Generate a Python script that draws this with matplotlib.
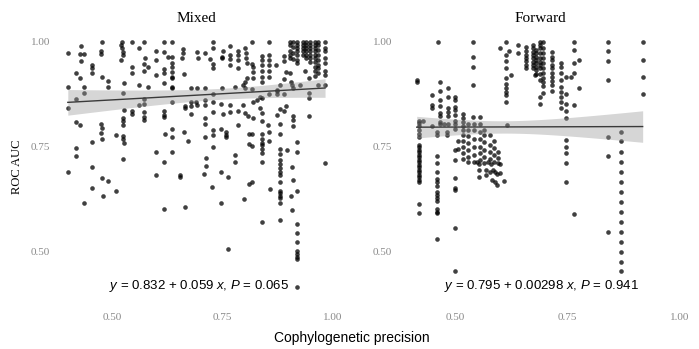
import numpy as np
import matplotlib
matplotlib.use("Agg")
import matplotlib.pyplot as plt

plt.rcParams['mathtext.fontset'] = 'custom'
plt.rcParams['mathtext.it'] = 'Liberation Sans:italic'
plt.rcParams['mathtext.rm'] = 'Liberation Sans'

# (cophylogenetic precision, ROC AUC)
mixed_points = [
    (0.477, 1.000), (0.522, 0.999), (0.546, 1.000), (0.572, 1.000), (0.618, 1.000), (0.636, 1.000),
    (0.429, 0.990), (0.400, 0.973), (0.428, 0.971), (0.437, 0.971), (0.475, 0.978), (0.475, 0.971),
    (0.520, 0.993), (0.522, 0.985), (0.525, 0.977), (0.525, 0.970), (0.560, 0.985), (0.600, 0.978),
    (0.618, 0.977), (0.626, 0.965), (0.636, 0.965), (0.661, 0.983), (0.661, 0.973), (0.659, 0.961),
    (0.429, 0.954), (0.520, 0.957), (0.575, 0.961), (0.600, 0.957), (0.635, 0.949),
    (0.454, 0.945), (0.454, 0.937), (0.454, 0.927), (0.546, 0.941), (0.546, 0.927), (0.572, 0.947),
    (0.572, 0.931), (0.581, 0.939), (0.618, 0.935), (0.618, 0.927), (0.636, 0.941), (0.636, 0.929),
    (0.636, 0.917), (0.636, 0.913), (0.600, 0.921), (0.664, 0.923), (0.419, 0.925), (0.428, 0.915),
    (0.477, 0.916), (0.492, 0.907), (0.492, 0.893), (0.526, 0.901), (0.560, 0.897), (0.582, 0.892),
    (0.618, 0.903), (0.636, 0.893), (0.636, 0.889), (0.679, 0.889), (0.400, 0.893), (0.437, 0.893),
    (0.437, 0.879), (0.418, 0.864), (0.400, 0.843), (0.525, 0.879), (0.572, 0.864), (0.560, 0.849),
    (0.572, 0.851), (0.635, 0.857), (0.665, 0.847), (0.665, 0.843), (0.679, 0.857), (0.679, 0.847),
    (0.679, 0.828), (0.528, 0.837), (0.546, 0.835), (0.546, 0.828), (0.572, 0.833), (0.572, 0.821),
    (0.572, 0.813), (0.618, 0.835), (0.618, 0.825), (0.618, 0.820), (0.525, 0.819), (0.525, 0.811),
    (0.525, 0.801), (0.418, 0.809), (0.428, 0.801), (0.474, 0.803), (0.477, 0.795), (0.474, 0.783),
    (0.510, 0.777), (0.525, 0.775), (0.525, 0.767), (0.528, 0.759), (0.477, 0.767), (0.454, 0.760),
    (0.620, 0.779), (0.636, 0.792), (0.636, 0.773), (0.664, 0.785), (0.673, 0.762), (0.419, 0.747),
    (0.419, 0.728), (0.525, 0.719), (0.600, 0.738), (0.636, 0.736), (0.618, 0.712),
    (0.728, 1.000), (0.817, 1.000), (0.856, 1.000), (0.982, 1.000),
    (0.903, 1.000), (0.903, 0.993), (0.903, 0.978), (0.903, 0.969), (0.903, 0.961),
    (0.910, 1.000), (0.910, 0.989), (0.910, 0.973), (0.910, 0.959),
    (0.919, 1.000), (0.919, 0.994), (0.919, 0.986), (0.919, 0.978), (0.919, 0.969), (0.919, 0.957), (0.919, 0.949),
    (0.933, 1.000), (0.933, 0.994), (0.933, 0.986), (0.933, 0.978), (0.933, 0.970),
    (0.940, 1.000), (0.940, 0.994), (0.940, 0.986), (0.940, 0.978), (0.940, 0.970), (0.940, 0.962),
    (0.948, 1.000), (0.948, 0.994), (0.948, 0.986), (0.948, 0.978), (0.948, 0.970), (0.948, 0.962), (0.948, 0.953),
    (0.959, 1.000), (0.959, 0.994), (0.959, 0.986), (0.959, 0.978), (0.959, 0.970), (0.959, 0.961),
    (0.959, 0.953), (0.959, 0.941), (0.959, 0.931), (0.959, 0.919),
    (0.967, 1.000), (0.967, 0.993), (0.967, 0.981), (0.967, 0.969), (0.967, 0.957), (0.967, 0.945),
    (0.967, 0.937), (0.967, 0.927),
    (0.982, 0.985), (0.982, 0.978), (0.982, 0.961), (0.982, 0.949), (0.982, 0.931), (0.982, 0.921),
    (0.692, 0.977), (0.695, 0.961), (0.710, 0.973), (0.722, 0.959), (0.728, 0.985), (0.728, 0.947),
    (0.728, 0.937), (0.752, 0.978), (0.748, 0.965), (0.749, 0.961), (0.768, 0.990), (0.767, 0.969),
    (0.767, 0.959), (0.767, 0.945), (0.786, 0.978), (0.786, 0.970), (0.786, 0.957), (0.786, 0.937),
    (0.802, 0.985), (0.803, 0.973), (0.803, 0.961), (0.805, 0.949), (0.817, 0.947), (0.820, 0.941),
    (0.820, 0.929), (0.806, 0.913), (0.802, 0.905), (0.797, 0.897), (0.820, 0.913),
    (0.839, 0.967), (0.839, 0.957), (0.839, 0.945), (0.839, 0.931), (0.839, 0.917), (0.839, 0.905),
    (0.856, 0.970), (0.856, 0.957), (0.856, 0.945), (0.856, 0.931), (0.856, 0.917), (0.871, 0.945),
    (0.888, 0.967), (0.888, 0.954), (0.894, 0.929), (0.889, 0.911), (0.879, 0.897), (0.874, 0.885),
    (0.903, 0.925), (0.906, 0.905), (0.907, 0.897), (0.910, 0.889), (0.925, 0.897), (0.937, 0.931),
    (0.945, 0.913), (0.945, 0.877), (0.945, 0.865), (0.965, 0.897), (0.982, 0.897),
    (0.692, 0.891), (0.710, 0.889), (0.728, 0.875), (0.748, 0.891), (0.778, 0.893), (0.801, 0.891),
    (0.817, 0.887), (0.835, 0.869), (0.839, 0.867), (0.856, 0.875), (0.874, 0.883), (0.874, 0.875),
    (0.889, 0.875),
    (0.690, 0.857), (0.692, 0.849), (0.710, 0.861), (0.710, 0.849), (0.729, 0.857), (0.728, 0.833),
    (0.746, 0.852), (0.750, 0.828), (0.767, 0.849), (0.767, 0.833), (0.784, 0.835), (0.797, 0.849),
    (0.802, 0.829), (0.808, 0.824), (0.820, 0.819), (0.820, 0.857), (0.827, 0.861), (0.835, 0.841),
    (0.839, 0.829), (0.839, 0.811), (0.854, 0.801), (0.874, 0.825), (0.879, 0.840), (0.889, 0.835),
    (0.894, 0.848), (0.909, 0.824), (0.909, 0.813), (0.909, 0.800), (0.945, 0.824),
    (0.710, 0.817), (0.710, 0.805), (0.728, 0.789), (0.728, 0.777), (0.746, 0.793), (0.758, 0.785),
    (0.759, 0.777), (0.758, 0.773), (0.710, 0.773), (0.728, 0.750), (0.778, 0.730), (0.784, 0.801),
    (0.809, 0.779), (0.817, 0.779), (0.811, 0.757), (0.817, 0.752),
    (0.839, 0.779), (0.839, 0.769), (0.839, 0.758), (0.839, 0.754), (0.839, 0.745), (0.839, 0.734),
    (0.839, 0.714), (0.856, 0.785), (0.856, 0.762),
    (0.879, 0.803), (0.879, 0.779), (0.879, 0.745), (0.879, 0.731), (0.879, 0.718),
    (0.895, 0.742), (0.919, 0.760), (0.919, 0.738), (0.713, 0.722), (0.778, 0.712), (0.982, 0.710),
    (0.400, 0.690), (0.454, 0.702), (0.477, 0.674), (0.490, 0.668), (0.454, 0.650), (0.509, 0.644),
    (0.480, 0.632), (0.437, 0.614), (0.599, 0.683), (0.654, 0.682), (0.654, 0.678), (0.618, 0.600),
    (0.665, 0.606),
    (0.713, 0.703), (0.708, 0.684), (0.746, 0.688), (0.763, 0.676), (0.727, 0.652), (0.746, 0.616),
    (0.799, 0.624), (0.809, 0.660), (0.817, 0.665), (0.857, 0.648), (0.839, 0.570),
    (0.879, 0.708), (0.879, 0.698), (0.879, 0.690), (0.879, 0.682), (0.879, 0.666), (0.879, 0.644),
    (0.879, 0.638), (0.879, 0.632), (0.879, 0.628), (0.879, 0.614), (0.879, 0.574),
    (0.908, 0.700), (0.910, 0.671), (0.919, 0.644), (0.904, 0.632), (0.908, 0.598),
    (0.919, 0.565), (0.919, 0.542), (0.919, 0.521), (0.919, 0.501), (0.919, 0.493), (0.919, 0.486),
    (0.919, 0.480), (0.919, 0.413), (0.762, 0.505),
]

forward_points = [
    (0.415, 0.909), (0.415, 0.905), (0.419, 0.811), (0.419, 0.806), (0.419, 0.798), (0.419, 0.789),
    (0.419, 0.781), (0.419, 0.773), (0.419, 0.754), (0.419, 0.748), (0.419, 0.742), (0.419, 0.736),
    (0.419, 0.730), (0.419, 0.724), (0.419, 0.718), (0.419, 0.712), (0.419, 0.706), (0.419, 0.700),
    (0.419, 0.694), (0.419, 0.688), (0.419, 0.682), (0.419, 0.676), (0.419, 0.670), (0.419, 0.664),
    (0.419, 0.612), (0.419, 0.592), (0.430, 0.811),
    (0.448, 0.873), (0.448, 0.849), (0.448, 0.843), (0.448, 0.800),
    (0.463, 1.000), (0.467, 0.905), (0.467, 0.883), (0.467, 0.861), (0.467, 0.847), (0.467, 0.831),
    (0.467, 0.823), (0.467, 0.809), (0.467, 0.803),
    (0.461, 0.785), (0.461, 0.777), (0.461, 0.728), (0.461, 0.711), (0.461, 0.688), (0.461, 0.672),
    (0.461, 0.664), (0.461, 0.656), (0.461, 0.640), (0.461, 0.634), (0.461, 0.628), (0.461, 0.620),
    (0.461, 0.600), (0.461, 0.594), (0.461, 0.590), (0.461, 0.529),
    (0.484, 0.891), (0.484, 0.869), (0.484, 0.843), (0.484, 0.832), (0.484, 0.823), (0.484, 0.803),
    (0.482, 0.785), (0.482, 0.777), (0.476, 0.803),
    (0.500, 0.869), (0.500, 0.861), (0.500, 0.845), (0.500, 0.837), (0.500, 0.825), (0.500, 0.811),
    (0.500, 0.803), (0.500, 0.793), (0.500, 0.742), (0.500, 0.718), (0.501, 0.674), (0.501, 0.650),
    (0.501, 0.647), (0.501, 0.554), (0.501, 0.453),
    (0.507, 0.762), (0.507, 0.745),
    (0.518, 0.827), (0.518, 0.819), (0.518, 0.809), (0.518, 0.800), (0.518, 0.789), (0.518, 0.777),
    (0.518, 0.763), (0.518, 0.750), (0.518, 0.734), (0.518, 0.720),
    (0.530, 0.805), (0.530, 0.789), (0.530, 0.774), (0.530, 0.758), (0.530, 0.742), (0.530, 0.726),
    (0.530, 0.714),
    (0.539, 1.000), (0.539, 0.965), (0.539, 0.939), (0.539, 0.897), (0.539, 0.821),
    (0.542, 0.805), (0.542, 0.789), (0.542, 0.769), (0.542, 0.749), (0.542, 0.730), (0.542, 0.714),
    (0.555, 0.821), (0.555, 0.805), (0.555, 0.785), (0.555, 0.769), (0.555, 0.749), (0.555, 0.734),
    (0.555, 0.718),
    (0.565, 0.789), (0.565, 0.777), (0.565, 0.761), (0.565, 0.742), (0.565, 0.726), (0.565, 0.710),
    (0.578, 0.777), (0.578, 0.754), (0.578, 0.738), (0.578, 0.720),
    (0.587, 0.763), (0.587, 0.746), (0.587, 0.730), (0.587, 0.714),
    (0.596, 0.738), (0.596, 0.722), (0.596, 0.710), (0.600, 0.985),
    (0.548, 0.714), (0.553, 0.708), (0.574, 0.714), (0.581, 0.708), (0.601, 0.708),
    (0.553, 0.694), (0.553, 0.678), (0.570, 0.694), (0.578, 0.690), (0.585, 0.694), (0.589, 0.688),
    (0.593, 0.684), (0.583, 0.670), (0.590, 0.666), (0.593, 0.658), (0.610, 0.668), (0.600, 0.686),
    (0.570, 0.682),
    (0.613, 1.000), (0.613, 0.970), (0.613, 0.954), (0.613, 0.937), (0.613, 0.913), (0.613, 0.899),
    (0.613, 0.889), (0.613, 0.881), (0.613, 0.873), (0.613, 0.857), (0.619, 0.978), (0.624, 0.921),
    (0.615, 0.801), (0.639, 0.993), (0.639, 0.973),
    (0.658, 0.987), (0.658, 0.978), (0.658, 0.970), (0.658, 0.962), (0.658, 0.954), (0.658, 0.946),
    (0.658, 0.937),
    (0.674, 0.993), (0.674, 0.985), (0.674, 0.977), (0.674, 0.969), (0.674, 0.961), (0.674, 0.953),
    (0.674, 0.945), (0.674, 0.937),
    (0.680, 0.981), (0.680, 0.973), (0.680, 0.965), (0.680, 0.957), (0.680, 0.949), (0.680, 0.941),
    (0.680, 0.933), (0.680, 0.923),
    (0.689, 1.000), (0.689, 0.993), (0.689, 0.985), (0.689, 0.973), (0.689, 0.962), (0.689, 0.953),
    (0.689, 0.945), (0.689, 0.937), (0.689, 0.923), (0.689, 0.909), (0.689, 0.869), (0.689, 0.851),
    (0.696, 0.999), (0.696, 0.985), (0.696, 0.973), (0.696, 0.962), (0.696, 0.949), (0.696, 0.937),
    (0.696, 0.925), (0.696, 0.915), (0.696, 0.905), (0.696, 0.895), (0.696, 0.877),
    (0.716, 0.977), (0.716, 0.965), (0.716, 0.957), (0.716, 0.946), (0.716, 0.937), (0.716, 0.927),
    (0.716, 0.917), (0.716, 0.907), (0.716, 0.897), (0.716, 0.883), (0.678, 0.921),
    (0.736, 0.949), (0.736, 0.939), (0.736, 0.925), (0.736, 0.909), (0.736, 0.893), (0.736, 0.881),
    (0.736, 0.869), (0.736, 0.857), (0.736, 0.843),
    (0.747, 0.917), (0.757, 0.917), (0.764, 0.925),
    (0.747, 0.875), (0.747, 0.851), (0.747, 0.835), (0.747, 0.817), (0.747, 0.766), (0.747, 0.750),
    (0.747, 0.734), (0.747, 0.710), (0.747, 0.666),
    (0.764, 0.849), (0.764, 1.000), (0.764, 0.981), (0.764, 0.949), (0.776, 0.957), (0.776, 0.891),
    (0.764, 0.588),
    (0.841, 1.000), (0.841, 0.978), (0.841, 0.954), (0.841, 0.909), (0.841, 0.773), (0.841, 0.728),
    (0.841, 0.546),
    (0.868, 0.785), (0.868, 0.762), (0.868, 0.738), (0.868, 0.714), (0.868, 0.690), (0.868, 0.666),
    (0.868, 0.642), (0.868, 0.618), (0.868, 0.594), (0.868, 0.570), (0.868, 0.546), (0.868, 0.522),
    (0.868, 0.498), (0.868, 0.474), (0.868, 0.452),
    (0.917, 1.000), (0.917, 0.958), (0.917, 0.917), (0.917, 0.875),
]

panel_titles = ["Mixed", "Forward"]
intercepts = [0.832, 0.795]
slopes = [0.059, 0.00298]
labels = [r"$y$ = 0.832 + 0.059 $x$, $P$ = 0.065",
          r"$y$ = 0.795 + 0.00298 $x$, $P$ = 0.941"]
ticks = [0.50, 0.75, 1.00]

W, H = 699, 349
fig = plt.figure(figsize=(W / 100, H / 100), dpi=100)

# axes boxes in pixels: left, right
boxes = [(53, 340), (395, 685)]
xlims = [(0.3665, 1.0158), (0.3667, 1.0111)]
top, bottom = 30, 300
ylim = (0.3828, 1.0287)

for i, pts in enumerate([mixed_points, forward_points]):
    pts = np.array(pts)
    x, y = pts[:, 0], pts[:, 1]
    l, r = boxes[i]
    ax = fig.add_axes([l / W, (H - bottom) / H, (r - l) / W, (bottom - top) / H])
    ax.scatter(x, y, s=11, color='black', alpha=0.75, linewidths=0, zorder=1)

    # fitted line from the reported coefficients, 95% band from the points
    a, b = intercepts[i], slopes[i]
    xs = np.linspace(x.min(), x.max(), 100)
    fit = a + b * xs
    resid = y - (a + b * x)
    n = len(x)
    s = np.sqrt(np.sum(resid ** 2) / (n - 2))
    se = s * np.sqrt(1 / n + (xs - x.mean()) ** 2 / np.sum((x - x.mean()) ** 2))
    ax.fill_between(xs, fit - 1.97 * se, fit + 1.97 * se, color='#999999', alpha=0.4,
                    linewidth=0, zorder=2)
    ax.plot(xs, fit, color='#3a3a3a', lw=1.0, zorder=3)

    ax.set_xlim(*xlims[i])
    ax.set_ylim(*ylim)
    ax.set_xticks(ticks)
    ax.set_yticks(ticks)
    ax.set_xticklabels([f"{t:.2f}" for t in ticks])
    ax.set_yticklabels([f"{t:.2f}" for t in ticks])
    ax.tick_params(length=0, labelsize=8, labelcolor='#8a8a8a')
    ax.tick_params(axis='x', pad=9)
    ax.tick_params(axis='y', pad=2)
    for lab in ax.get_xticklabels() + ax.get_yticklabels():
        lab.set_fontfamily('Liberation Serif')
    for sp in ax.spines.values():
        sp.set_visible(False)
    ax.set_title(panel_titles[i], fontfamily='Liberation Serif', fontsize=11, pad=6)
    ax.text(0.51 if i == 0 else 0.505, 0.052, labels[i], transform=ax.transAxes,
            ha='center', va='center', fontsize=9.5, fontfamily='Liberation Sans')

fig.text(17 / W, 1 - 167 / H, "ROC AUC", rotation=90, ha='center', va='center',
         fontfamily='Liberation Serif', fontsize=9)
fig.text(352 / W, 1 - 338 / H, "Cophylogenetic precision", ha='center', va='center',
         fontfamily='Liberation Sans', fontsize=10)

fig.savefig("out.png", dpi=100)
